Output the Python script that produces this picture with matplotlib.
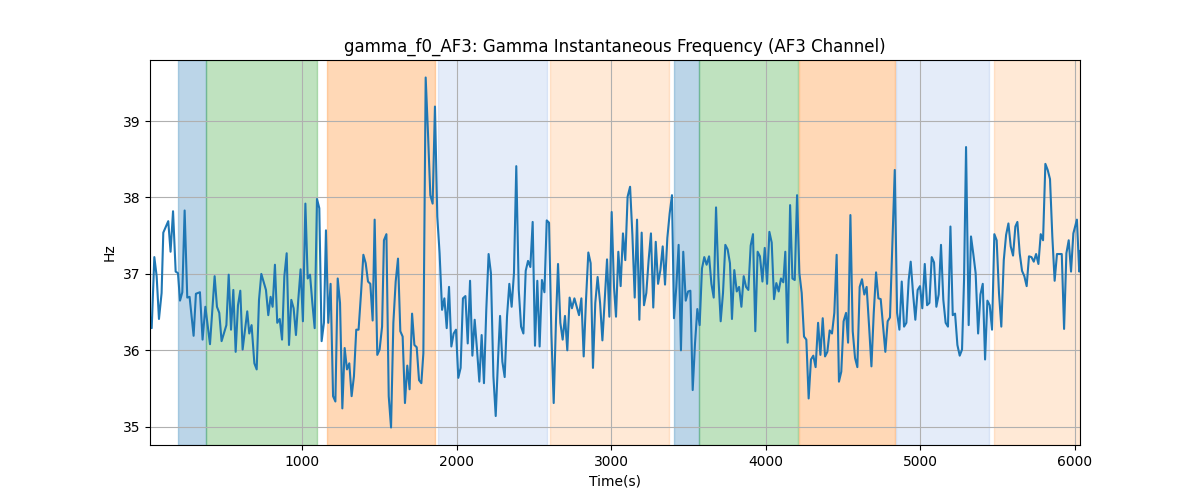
import matplotlib
matplotlib.use("Agg")
import matplotlib.pyplot as plt

# instantaneous gamma frequency, AF3 channel
time_s = [
    17, 28, 45, 60, 75, 92, 103, 135, 150, 166, 183, 198, 211, 226, 241, 258, 273, 299, 314, 340,
    357, 375, 405, 435, 450, 465, 480, 511, 526, 541, 556, 571, 586, 601, 616, 646, 659, 674, 692, 707,
    722, 737, 767, 782, 797, 810, 825, 840, 856, 871, 886, 901, 916, 931, 946, 961, 976, 991, 1006, 1022,
    1037, 1052, 1067, 1082, 1097, 1112, 1127, 1142, 1155, 1170, 1185, 1201, 1216, 1231, 1246, 1261, 1276, 1291, 1306, 1321,
    1336, 1351, 1366, 1382, 1397, 1412, 1427, 1442, 1457, 1470, 1487, 1502, 1518, 1530, 1546, 1561, 1576, 1591, 1606, 1621,
    1636, 1651, 1666, 1681, 1696, 1712, 1727, 1742, 1757, 1772, 1785, 1800, 1815, 1830, 1845, 1860, 1875, 1890, 1906, 1921,
    1936, 1951, 1966, 1981, 1996, 2011, 2026, 2041, 2057, 2072, 2087, 2102, 2117, 2132, 2147, 2162, 2177, 2192, 2207, 2222,
    2238, 2253, 2268, 2281, 2296, 2311, 2326, 2341, 2356, 2371, 2386, 2402, 2417, 2432, 2447, 2462, 2477, 2492, 2507, 2522,
    2537, 2552, 2568, 2583, 2598, 2613, 2628, 2643, 2656, 2671, 2686, 2701, 2716, 2731, 2746, 2762, 2777, 2792, 2807, 2822,
    2837, 2852, 2867, 2882, 2897, 2912, 2928, 2943, 2958, 2973, 2988, 3003, 3018, 3031, 3046, 3061, 3076, 3091, 3106, 3122,
    3137, 3152, 3167, 3182, 3197, 3212, 3227, 3242, 3257, 3272, 3288, 3303, 3318, 3333, 3348, 3363, 3378, 3393, 3406, 3421,
    3436, 3451, 3466, 3482, 3497, 3512, 3527, 3542, 3557, 3572, 3587, 3602, 3617, 3633, 3648, 3663, 3678, 3693, 3708, 3723,
    3738, 3753, 3768, 3781, 3796, 3812, 3827, 3842, 3857, 3872, 3887, 3902, 3917, 3932, 3947, 3962, 3978, 3993, 4008, 4023,
    4038, 4053, 4068, 4083, 4098, 4113, 4126, 4141, 4157, 4172, 4187, 4202, 4217, 4232, 4247, 4262, 4277, 4292, 4307, 4322,
    4338, 4353, 4368, 4383, 4398, 4413, 4428, 4443, 4458, 4473, 4488, 4503, 4519, 4532, 4547, 4562, 4577, 4592, 4607, 4622,
    4637, 4652, 4668, 4683, 4698, 4713, 4728, 4743, 4758, 4773, 4788, 4803, 4818, 4834, 4849, 4864, 4879, 4894, 4909, 4924,
    4937, 4952, 4967, 4982, 4997, 5012, 5028, 5043, 5058, 5073, 5088, 5103, 5118, 5133, 5148, 5163, 5178, 5194, 5209, 5224,
    5239, 5254, 5269, 5282, 5295, 5312, 5327, 5342, 5357, 5373, 5388, 5403, 5418, 5433, 5448, 5463, 5478, 5493, 5508, 5523,
    5539, 5554, 5569, 5584, 5599, 5614, 5627, 5642, 5657, 5672, 5687, 5702, 5718, 5733, 5748, 5763, 5778, 5793, 5808, 5823,
    5838, 5853, 5868, 5883, 5899, 5914, 5929, 5944, 5959, 5974, 5989, 6012, 6027, 6032,
]
freq_hz = [
    36.44, 36.29, 37.22, 36.97, 36.41, 36.75, 37.54, 37.69, 37.29, 37.82, 37.03, 37.01, 36.65, 36.76, 37.83, 36.69, 36.70, 36.19, 36.74, 36.76,
    36.14, 36.57, 36.08, 36.97, 36.57, 36.49, 36.12, 36.33, 36.99, 36.27, 36.79, 35.98, 36.59, 36.78, 36.01, 36.51, 36.22, 36.33, 35.83, 35.75,
    36.66, 37.00, 36.79, 36.46, 36.70, 36.57, 37.12, 36.36, 36.41, 36.14, 36.97, 37.27, 36.07, 36.66, 36.55, 36.20, 36.66, 37.06, 36.38, 37.92,
    36.94, 36.99, 36.62, 36.29, 37.98, 37.86, 36.12, 36.36, 37.57, 36.36, 36.87, 35.40, 35.33, 36.94, 36.62, 35.24, 36.03, 35.75, 35.83, 35.40,
    35.66, 36.27, 36.27, 36.75, 37.25, 37.14, 36.90, 36.87, 36.39, 37.71, 35.94, 36.01, 36.31, 37.44, 37.52, 35.40, 34.99, 36.36, 36.90, 37.20,
    36.25, 36.18, 35.31, 35.80, 35.49, 36.48, 36.07, 36.04, 35.61, 35.57, 35.96, 39.57, 38.84, 38.03, 37.92, 39.19, 37.75, 37.27, 36.53, 36.68,
    36.29, 36.83, 36.05, 36.22, 36.27, 35.64, 35.77, 36.68, 36.71, 36.09, 36.91, 35.93, 36.40, 36.01, 35.59, 36.20, 35.57, 36.53, 37.26, 37.01,
    35.66, 35.14, 35.88, 36.45, 35.85, 35.65, 36.44, 36.87, 36.57, 37.01, 38.41, 36.79, 36.31, 36.22, 37.04, 37.17, 37.09, 37.68, 36.06, 36.91,
    36.05, 36.92, 36.76, 37.70, 37.67, 36.22, 35.31, 36.40, 37.13, 36.36, 36.14, 36.45, 36.00, 36.69, 36.55, 36.68, 36.57, 36.46, 36.68, 35.92,
    36.66, 37.28, 37.14, 35.77, 36.62, 36.96, 36.62, 36.13, 36.66, 37.19, 36.44, 37.81, 36.83, 36.44, 37.29, 36.84, 37.53, 37.18, 38.01, 38.14,
    37.51, 36.69, 37.71, 36.40, 37.54, 36.59, 36.75, 37.18, 37.53, 36.56, 37.42, 36.87, 37.05, 37.36, 36.86, 37.47, 37.79, 38.03, 36.42, 36.83,
    37.38, 36.00, 37.29, 36.65, 36.77, 36.78, 35.48, 36.09, 36.54, 36.33, 37.07, 37.22, 37.12, 37.23, 36.87, 36.69, 37.87, 36.97, 36.38, 36.75,
    37.38, 37.32, 37.14, 36.41, 37.05, 36.77, 36.83, 36.57, 36.97, 36.83, 36.79, 37.37, 37.52, 36.25, 37.29, 37.23, 36.90, 37.34, 36.87, 37.55,
    37.41, 36.67, 36.88, 36.77, 36.94, 36.89, 37.29, 36.10, 37.90, 36.94, 36.92, 38.03, 37.01, 36.75, 36.18, 36.14, 35.37, 35.88, 35.93, 35.78,
    36.36, 35.94, 36.42, 35.92, 35.98, 36.26, 36.22, 36.49, 37.25, 35.59, 35.72, 36.38, 36.49, 36.10, 37.77, 36.25, 35.90, 35.78, 36.83, 36.93,
    36.73, 36.83, 36.31, 35.79, 36.49, 37.02, 36.68, 36.67, 36.33, 35.98, 36.38, 36.43, 37.36, 38.36, 36.49, 36.27, 36.90, 36.31, 36.36, 36.92,
    37.16, 36.75, 36.40, 36.79, 36.84, 36.55, 37.13, 36.59, 36.62, 37.22, 37.15, 36.57, 36.73, 37.38, 36.66, 36.36, 36.31, 37.62, 36.46, 36.48,
    36.07, 35.93, 36.01, 36.92, 38.66, 36.33, 37.49, 37.26, 37.01, 36.22, 36.73, 36.87, 35.88, 36.65, 36.59, 36.27, 37.52, 37.44, 36.75, 36.31,
    37.18, 37.51, 37.66, 37.36, 37.24, 37.62, 37.68, 37.27, 37.04, 36.97, 36.84, 37.23, 37.22, 37.16, 37.26, 37.13, 37.52, 37.44, 38.44, 38.36,
    38.24, 37.49, 36.91, 37.26, 37.26, 37.26, 36.28, 37.27, 37.44, 37.03, 37.53, 37.71, 37.03, 37.30,
]

# shaded stimulus segments: start, end, kind
seg_start = [200, 377, 1162, 1878, 2604, 3406, 3566, 4214, 4840, 5474]
seg_end = [377, 1095, 1860, 2587, 3374, 3566, 4208, 4836, 5443, 6032]
seg_kind = ['blue', 'green', 'orange', 'lightblue', 'lightorange',
            'blue', 'green', 'orange', 'lightblue', 'lightorange']

SEG_STYLE = {
    'blue': ('tab:blue', 0.3),
    'green': ('tab:green', 0.3),
    'orange': ('tab:orange', 0.3),
    'lightblue': ('#4d80d9', 0.15),
    'lightorange': ('tab:orange', 0.17),
}

fig, ax = plt.subplots(figsize=(12, 5), dpi=100)

for s, e, k in zip(seg_start, seg_end, seg_kind):
    color, alpha = SEG_STYLE[k]
    ax.axvspan(s, e, color=color, alpha=alpha)

ax.plot(time_s, freq_hz, color='tab:blue', linewidth=1.5)

ax.set_xlim(time_s[0], time_s[-1])
ax.set_title('gamma_f0_AF3: Gamma Instantaneous Frequency (AF3 Channel)')
ax.set_xlabel('Time(s)')
ax.set_ylabel('Hz')
ax.grid(True)

plt.savefig('out.png', dpi=100)
plt.close()
